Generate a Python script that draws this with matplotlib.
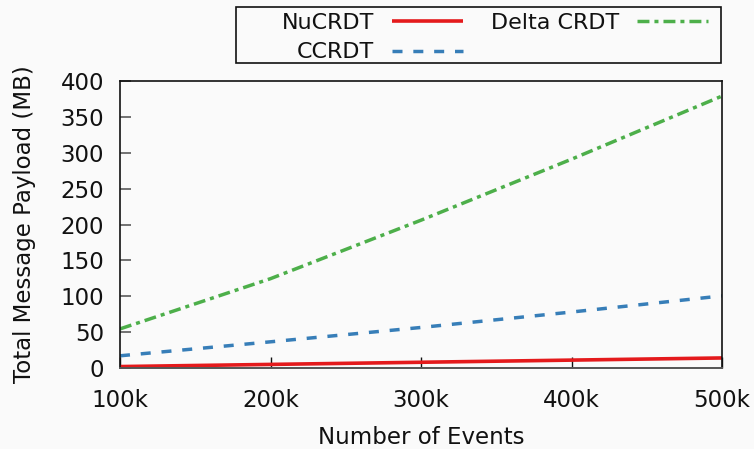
import matplotlib
matplotlib.use("Agg")
import matplotlib.pyplot as plt
from matplotlib.patches import Rectangle
from matplotlib.ticker import FuncFormatter

events = [100000, 200000, 300000, 400000, 500000]
nucrdt = [2, 5, 8, 11, 14]
ccrdt = [17, 36.5, 56.5, 78, 100.5]
delta = [54.5, 124.5, 206, 291, 379]
xticks = [100000, 200000, 300000, 400000, 500000]
yticks = [0, 50, 100, 150, 200, 250, 300, 350, 400]

plt.rcParams['font.family'] = ['DejaVu Sans']
plt.rcParams['lines.scale_dashes'] = False

BG = '#fafafa'
fig = plt.figure(figsize=(7.54, 4.49), dpi=100, facecolor=BG)
W, H = 754, 449
L, R, T, B = 120, 722, 81, 368
ax = fig.add_axes([L / W, 1 - B / H, (R - L) / W, (B - T) / H])
ax.set_facecolor(BG)

ax.plot(events, nucrdt, color='#e41a1c', lw=2.6, solid_capstyle='butt', label='NuCRDT')
ax.plot(events, ccrdt, color='#377eb8', lw=2.5, dashes=(7.2, 7.8), label='CCRDT')
ax.plot(events, delta, color='#4daf4a', lw=2.5, dashes=(8.6, 3.6, 2.9, 3.6), label='Delta CRDT')

ax.set_xlim(100000, 500000)
ax.set_ylim(0, 400)
ax.set_xticks(xticks)
ax.set_yticks(yticks)
ax.xaxis.set_major_formatter(FuncFormatter(lambda v, p: f"{int(v/1000)}k"))

fs = 16.5
ax.tick_params(axis='y', direction='in', length=8, width=1.3, color='#666666', pad=11.5, labelsize=fs, labelcolor='#111111')
ax.tick_params(axis='x', direction='in', length=8, width=1.0, color='#111111', pad=15, labelsize=fs, labelcolor='#111111')
for s in ['top', 'right', 'left']:
    ax.spines[s].set_color('#111111')
    ax.spines[s].set_linewidth(1.2)
ax.spines['bottom'].set_color('#555555')
ax.spines['bottom'].set_linewidth(1.4)

ax.set_xlabel('Number of Events', fontsize=fs, color='#111111')
ax.set_ylabel('Total Message Payload (MB)', fontsize=fs, color='#111111')
ax.xaxis.set_label_coords(0.5, -0.202)
ax.yaxis.set_label_coords(-0.14, 0.5)

handles, labels = ax.get_legend_handles_labels()
leg = fig.legend(handles, labels, ncol=2, loc='upper right',
                 bbox_to_anchor=(708 / W, 1 - 13 / H), frameon=False,
                 markerfirst=False, fontsize=16, handlelength=3.2,
                 handletextpad=0.8, columnspacing=1.26, labelspacing=0.42,
                 borderpad=0, borderaxespad=0)
for t in leg.get_texts():
    t.set_color('#111111')

fig.patches.append(Rectangle((236 / W, 1 - 63 / H), (721 - 236) / W, (63 - 7) / H,
                             transform=fig.transFigure, fill=False,
                             edgecolor='#111111', linewidth=1.2))

fig.savefig('out.png', dpi=100, facecolor=BG)
